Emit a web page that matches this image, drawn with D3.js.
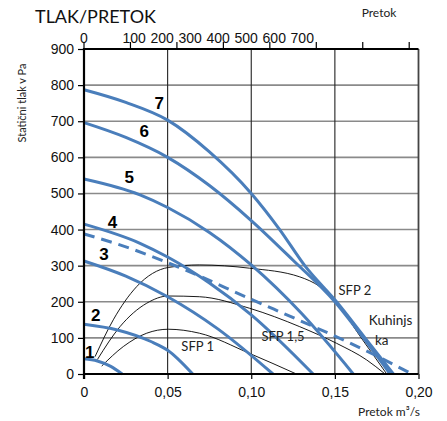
<!DOCTYPE html>
<html>
<head>
<meta charset="utf-8">
<script src="https://cdn.jsdelivr.net/npm/d3@7"></script>
<style>
  body { margin: 0; background: #fff; }
  svg { display: block; }
</style>
</head>
<body>
<script>
const W = 447, H = 421;

// fan curves, [q m3/s, p Pa]
const fan1 = [[0, 42], [0.008, 36], [0.016, 21], [0.0228, 0]];
const fan2 = [[0, 138], [0.02, 122], [0.04, 90], [0.05, 66], [0.065, 0]];
const fan3 = [[0, 313], [0.025, 271], [0.05, 214], [0.08, 125], [0.113, 0]];
const fan4 = [[0, 415], [0.0335, 362], [0.05, 324], [0.075, 252], [0.1, 164], [0.137, 0]];
const fan5 = [[0, 540], [0.0335, 496], [0.05, 461], [0.075, 392], [0.1, 302], [0.13, 168], [0.161, 0]];
const fan6 = [[0, 696], [0.025, 655], [0.05, 600], [0.075, 522], [0.1, 425], [0.125, 315], [0.15, 200], [0.167, 100], [0.183, 0]];
const fan7 = [[0, 787], [0.025, 752], [0.05, 703], [0.075, 615], [0.1, 500], [0.117, 400], [0.132, 300], [0.151, 200], [0.168, 100], [0.185, 0]];
const fanNames = ["1", "2", "3", "4", "5", "6", "7"];

// kitchen hood curve (dashed)
const kuhinjska = [[0, 388], [0.025, 352], [0.056, 297], [0.1, 207], [0.129, 148], [0.151, 103], [0.175, 50], [0.196, 0]];

// SFP lines
const sfp1 = [[0.0106, 22], [0.0235, 76], [0.0375, 113], [0.0504, 124], [0.069, 113], [0.099, 57], [0.127, 0]];
const sfp15 = [[0.008, 40], [0.0215, 131], [0.0375, 196], [0.0504, 216], [0.069, 214], [0.099, 182], [0.129, 131], [0.151, 85], [0.169, 39], [0.18, 0]];
const sfp2 = [[0.0066, 48], [0.0175, 150], [0.0315, 242], [0.0504, 295], [0.069, 302], [0.099, 293], [0.129, 269], [0.141, 242], [0.149, 210], [0.165, 105], [0.181, 0]];

const xTicks = [0, 0.05, 0.10, 0.15, 0.20];
const yTicks = [0, 100, 200, 300, 400, 500, 600, 700, 800, 900];
const topTicks = [0, 100, 200, 300, 400, 500, 600, 700]; // m3/h

const blue = "#4a7ebb";

const svg = d3.select("body")
    .append("svg")
    .attr("width", W)
    .attr("height", H);

const x = d3.scaleLinear().domain([0, 0.2]).range([84, 418.5]);
const y = d3.scaleLinear().domain([0, 900]).range([374, 49]);

// top labels are squeezed to the left in the original
const xTopLabel = d3.scaleLinear().domain([0, 100, 700]).range([x(0), x(0.03), x(0.1305)]);

// grid
svg.append("g")
    .selectAll("line")
    .data(yTicks.slice(1, -1))
    .enter()
    .append("line")
    .attr("x1", x(0)).attr("x2", x(0.2))
    .attr("y1", d => y(d)).attr("y2", d => y(d))
    .attr("stroke", "#8a8a8a")
    .attr("stroke-width", 1.6);

svg.append("g")
    .selectAll("line")
    .data(xTicks.slice(1, -1))
    .enter()
    .append("line")
    .attr("x1", d => x(d)).attr("x2", d => x(d))
    .attr("y1", y(900)).attr("y2", y(0))
    .attr("stroke", "#222")
    .attr("stroke-width", 1.1);

// right border
svg.append("line")
    .attr("x1", x(0.2)).attr("x2", x(0.2))
    .attr("y1", y(900)).attr("y2", y(0))
    .attr("stroke", "#444")
    .attr("stroke-width", 1.8);

// curves
const line = d3.line()
    .x(d => x(d[0]))
    .y(d => y(d[1]))
    .curve(d3.curveMonotoneX);

svg.append("g")
    .selectAll("path")
    .data([sfp1, sfp15, sfp2])
    .enter()
    .append("path")
    .attr("d", line)
    .attr("fill", "none")
    .attr("stroke", "#000")
    .attr("stroke-width", 0.9);

svg.append("path")
    .attr("d", line(kuhinjska))
    .attr("fill", "none")
    .attr("stroke", blue)
    .attr("stroke-width", 3)
    .attr("stroke-dasharray", "11,7");

const fans = [fan1, fan2, fan3, fan4, fan5, fan6, fan7];
svg.append("g")
    .selectAll("path")
    .data(fans)
    .enter()
    .append("path")
    .attr("d", line)
    .attr("fill", "none")
    .attr("stroke", blue)
    .attr("stroke-width", 3);

// axes
const yAxis = svg.append("g")
    .attr("transform", `translate(${x(0)},0)`)
    .call(d3.axisLeft(y).tickValues(yTicks).tickSize(6).tickPadding(4));
yAxis.select(".domain").remove();
yAxis.selectAll(".tick line").attr("stroke", "#000").attr("stroke-width", 1.2);
yAxis.selectAll("text")
    .attr("font-family", "Liberation Sans, Arial, sans-serif")
    .attr("font-size", 14)
    .attr("fill", "#111");

const xAxis = svg.append("g")
    .attr("transform", `translate(0,${y(0)})`)
    .call(d3.axisBottom(x).tickValues(xTicks).tickSize(5).tickPadding(8)
        .tickFormat(d => d === 0 ? "0" : d3.format(".2f")(d).replace(".", ",")));
xAxis.select(".domain").remove();
xAxis.selectAll(".tick line").attr("stroke", "#000").attr("stroke-width", 1.2);
xAxis.selectAll("text")
    .attr("font-family", "Liberation Sans, Arial, sans-serif")
    .attr("font-size", 14)
    .attr("fill", "#111");

// top secondary axis (m3/h)
svg.append("g")
    .selectAll("line")
    .data(topTicks)
    .enter()
    .append("line")
    .attr("x1", d => x(d / 3600)).attr("x2", d => x(d / 3600))
    .attr("y1", y(900) - 7).attr("y2", y(900))
    .attr("stroke", "#000")
    .attr("stroke-width", 1.2);

svg.append("g")
    .selectAll("text")
    .data(topTicks)
    .enter()
    .append("text")
    .attr("x", d => xTopLabel(d))
    .attr("y", 43)
    .attr("text-anchor", "middle")
    .attr("font-family", "Liberation Sans, Arial, sans-serif")
    .attr("font-size", 14)
    .attr("fill", "#111")
    .text(d => d);

// frame lines
svg.append("line")
    .attr("x1", x(0)).attr("x2", x(0.2))
    .attr("y1", y(900)).attr("y2", y(900))
    .attr("stroke", "#000").attr("stroke-width", 2.2);
svg.append("line")
    .attr("x1", x(0) - 1).attr("x2", x(0.2))
    .attr("y1", y(0)).attr("y2", y(0))
    .attr("stroke", "#000").attr("stroke-width", 2.2);
svg.append("line")
    .attr("x1", x(0)).attr("x2", x(0))
    .attr("y1", y(900) - 1).attr("y2", y(0) + 5)
    .attr("stroke", "#000").attr("stroke-width", 2.2);

// fan numbers
const fanLabelPos = [[0.0035, 44], [0.007, 148], [0.012, 317], [0.017, 405], [0.027, 530], [0.036, 655], [0.045, 733]];
svg.append("g")
    .selectAll("text")
    .data(fanNames)
    .enter()
    .append("text")
    .attr("x", (d, i) => x(fanLabelPos[i][0]))
    .attr("y", (d, i) => y(fanLabelPos[i][1]))
    .attr("text-anchor", "middle")
    .attr("font-family", "Liberation Sans, Arial, sans-serif")
    .attr("font-weight", "bold")
    .attr("font-size", 17)
    .attr("fill", "#000")
    .text(d => d);

// text labels
const cal = "Lato, Carlito, sans-serif";
function label(t, px, py, size, anchor) {
    return svg.append("text")
        .attr("x", px).attr("y", py)
        .attr("text-anchor", anchor || "middle")
        .attr("font-family", cal)
        .attr("font-size", size)
        .attr("fill", "#222")
        .text(t);
}
label("SFP 1", x(0.068), y(65), 13);
label("SFP 1,5", x(0.119), y(92), 13);
label("SFP 2", x(0.162), y(220), 13);
label("Kuhinjs", x(0.1833), y(135), 13.5);
label("ka", x(0.178), y(80), 13.5);

svg.append("text")
    .attr("x", 35).attr("y", 23)
    .attr("font-family", cal)
    .attr("font-size", 18)
    .attr("fill", "#111")
    .text("TLAK/PRETOK");

label("Pretok", 379, 17, 12);
label("Pretok m³/s", 389, 416, 12);

svg.append("text")
    .attr("transform", "translate(26,103) rotate(-90)")
    .attr("text-anchor", "middle")
    .attr("font-family", cal)
    .attr("font-size", 11)
    .attr("fill", "#222")
    .text("Statični tlak v Pa");
</script>
</body>
</html>
